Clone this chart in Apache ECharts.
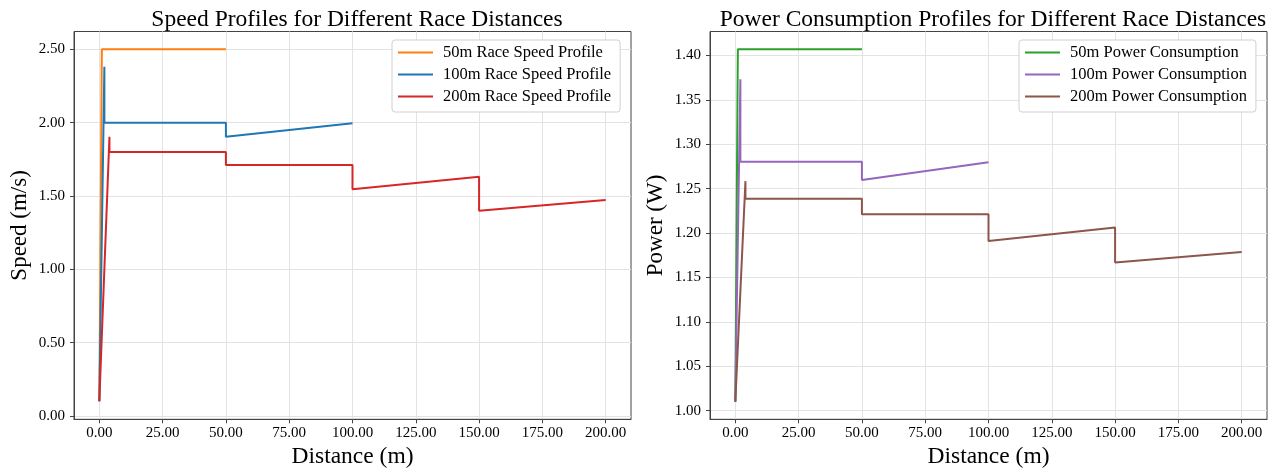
<!DOCTYPE html>
<html>
<head>
<meta charset="utf-8">
<script src="https://cdn.jsdelivr.net/npm/echarts@6/dist/echarts.min.js"></script>
<style>
  html, body { margin: 0; padding: 0; background: #fff; }
  #chart { width: 1274px; height: 470px; }
</style>
</head>
<body>
<div id="chart"></div>
<script>
// distance points (m) for each race
const dist50 = [0, 1, 50];
const dist100 = [0, 2, 2, 50, 50, 100];
const dist200 = [0, 4, 4, 50, 50, 100, 100, 150, 150, 200];

// speed (m/s)
const speed50 = [0.1, 2.5, 2.5];
const speed100 = [0.1, 2.381, 1.999, 1.999, 1.904, 1.995];
const speed200 = [0.1, 1.904, 1.80, 1.80, 1.711, 1.711, 1.545, 1.631, 1.399, 1.472];

// power (W)
const power50 = [1.01, 1.407, 1.407];
const power100 = [1.01, 1.3732, 1.2804, 1.2804, 1.2597, 1.2797];
const power200 = [1.01, 1.2585, 1.2386, 1.2386, 1.2213, 1.2213, 1.1912, 1.2063, 1.1669, 1.1788];

const distTicks = [0, 25, 50, 75, 100, 125, 150, 175, 200];
const speedTicks = [0, 0.5, 1.0, 1.5, 2.0, 2.5];
const powerTicks = [1.00, 1.05, 1.10, 1.15, 1.20, 1.25, 1.30, 1.35, 1.40];

const FONT = 'Liberation Serif';
const pairs = (xs, ys) => xs.map((x, i) => [x, ys[i]]);

const chart = echarts.init(document.getElementById('chart'));

function xAxisFor(gridIndex) {
  return {
    type: 'value', gridIndex, min: -10, max: 210,
    name: 'Distance (m)', nameLocation: 'middle', nameGap: 24,
    nameTextStyle: { fontFamily: FONT, fontSize: 23.5, color: '#000' },
    axisLine: { show: true, onZero: false, lineStyle: { color: '#444' } },
    axisTick: { show: true, length: 4, customValues: distTicks, lineStyle: { color: '#444' } },
    axisLabel: { customValues: distTicks, margin: 6, fontFamily: FONT, fontSize: 15, color: '#000',
      formatter: v => v.toFixed(2) },
    splitLine: { show: true, lineStyle: { color: '#e3e3e3', width: 1 } }
  };
}

function yAxisFor(gridIndex, name, min, max, ticks) {
  return {
    type: 'value', gridIndex, min, max,
    name, nameLocation: 'middle', nameGap: 43,
    nameTextStyle: { fontFamily: FONT, fontSize: 23, color: '#000' },
    axisLine: { show: true, onZero: false, lineStyle: { color: '#444' } },
    axisTick: { show: true, length: 4, customValues: ticks, lineStyle: { color: '#444' } },
    axisLabel: { customValues: ticks, margin: 9, fontFamily: FONT, fontSize: 15, color: '#000',
      formatter: v => v.toFixed(2) },
    splitLine: { show: true, lineStyle: { color: '#e3e3e3', width: 1 } }
  };
}

function lineSeries(name, xi, data, color) {
  return {
    type: 'line', name, xAxisIndex: xi, yAxisIndex: xi, data,
    showSymbol: false, symbol: 'none', animation: false,
    lineStyle: { color, width: 2 }, itemStyle: { color }
  };
}

const legendBase = {
  orient: 'vertical', icon: 'rect', itemWidth: 35, itemHeight: 2, itemGap: 5,
  padding: [4, 9, 7, 6], backgroundColor: '#fff', borderColor: '#d0d0d0', borderWidth: 1, borderRadius: 3,
  textStyle: { fontFamily: FONT, fontSize: 16.5, color: '#000', padding: [0, 0, 0, 5] }
};

const gridBase = { top: 31.5, bottom: 50.7, show: true, borderColor: '#444', borderWidth: 1,
  backgroundColor: '#fff', containLabel: false, outerBoundsMode: 'none' };

chart.setOption({
  animation: false,
  title: [
    { text: 'Speed Profiles for Different Race Distances', left: 352, top: 3, textAlign: 'center',
      textStyle: { fontFamily: FONT, fontSize: 23.5, fontWeight: 'normal', color: '#000' } },
    { text: 'Power Consumption Profiles for Different Race Distances', left: 988, top: 3, textAlign: 'center',
      textStyle: { fontFamily: FONT, fontSize: 23.5, fontWeight: 'normal', color: '#000' } }
  ],
  grid: [
    Object.assign({}, gridBase, { left: 74, right: 643 }),
    Object.assign({}, gridBase, { left: 710, right: 7 })
  ],
  legend: [
    Object.assign({}, legendBase, { left: 392, top: 40,
      data: ['50m Race Speed Profile', '100m Race Speed Profile', '200m Race Speed Profile'] }),
    Object.assign({}, legendBase, { left: 1019, top: 40,
      data: ['50m Power Consumption', '100m Power Consumption', '200m Power Consumption'] })
  ],
  xAxis: [xAxisFor(0), xAxisFor(1)],
  yAxis: [
    yAxisFor(0, 'Speed (m/s)', -0.0225, 2.621, speedTicks),
    yAxisFor(1, 'Power (W)', 0.9903, 1.427, powerTicks)
  ],
  series: [
    lineSeries('50m Race Speed Profile', 0, pairs(dist50, speed50), '#ff7f0e'),
    lineSeries('100m Race Speed Profile', 0, pairs(dist100, speed100), '#1f77b4'),
    lineSeries('200m Race Speed Profile', 0, pairs(dist200, speed200), '#d62728'),
    lineSeries('50m Power Consumption', 1, pairs(dist50, power50), '#2ca02c'),
    lineSeries('100m Power Consumption', 1, pairs(dist100, power100), '#9467bd'),
    lineSeries('200m Power Consumption', 1, pairs(dist200, power200), '#8c564b')
  ]
});
window.addEventListener('resize', () => chart.resize());
</script>
</body>
</html>
